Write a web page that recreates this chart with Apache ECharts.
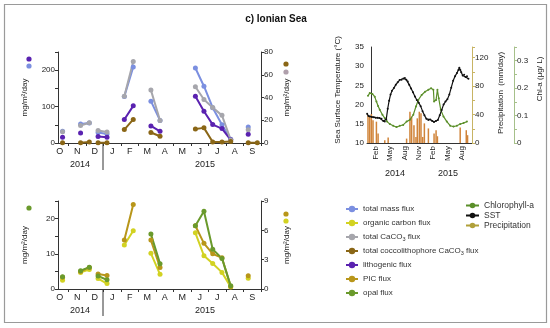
<!DOCTYPE html>
<html><head><meta charset="utf-8">
<script src="https://cdn.jsdelivr.net/npm/echarts@6/dist/echarts.min.js"></script>
<style>html,body{margin:0;padding:0;background:#fff}#c{width:550px;height:328px}</style>
</head><body><div id="c"></div>
<script>
// ---- flux sampling (months since 1 Oct 2014) ----
const monthLabels = ['O','N','D','J','F','M','A','M','J','J','A','S'];
const sampleMonths = [0.66, 1.69, 2.19, 2.69, 3.20, 4.19, 4.70, 5.71, 6.23, 8.25, 8.74, 9.24, 9.77, 10.27, 11.27, 11.79];
const sampleGroup  = [0, 1, 1, 2, 2, 3, 3, 4, 4, 5, 5, 5, 5, 5, 6, 6];
// top panel (left axis, mg/m2/day 0-250)
const totalMass  = [32, 52, 55, 28.6, 24.8, 128, 209, 115, 62, 206, 156, 97, 50, 10, 44, null];
const lithogenic = [15.7, 27.5, null, 18, 16, 64.4, 102, 46.8, 32.2, 128.5, 87.3, 50.6, 39.6, 8.8, 24, null];
// top panel (right axis, mg/m2/day 0-80)
const totalCaCO3 = [10, 15.4, 17.8, 10.9, 9.6, 41.2, 71.6, 46.5, 19.8, 49.4, 38.2, 31.1, 24.3, 2.7, 11.6, null];
const coccoCaCO3 = [0.2, 0.3, 0.9, 0.3, 0.3, 11.8, 20.7, 9.2, 5.9, 12.4, 13.3, 0.9, 0.9, 1.4, 0.3, 0.3];
// bottom panel (left axis 0-25)
const opalFlux   = [3.5, 5.2, 6.2, 3.7, 2.6, null, null, 15.6, 7.2, 18, 22.1, 11.3, 8.7, 0.9, null, null];
// bottom panel (right axis 0-9)
const picFlux    = [1.2, 1.8, 2.2, 1.54, 1.38, 5.0, 8.65, 5.0, 2.2, 6.47, 4.67, 3.6, 3.2, 0.25, 1.35, null];
const ocFlux     = [0.9, 1.7, 2.0, 1.07, 0.55, 4.5, 5.95, 3.65, 1.5, 5.75, 3.4, 2.6, 1.7, 0.2, 1.1, null];

// ---- SST / Chl / precipitation (months since 1 Jan 2014) ----
const envTickMonths = [1, 4, 7, 10, 13, 16, 19];
const envTickLabels = ['Feb','May','Aug','Nov','Feb','May','Aug'];
const sstMonths = [-0.8,-0.5,-0.2,0.2,0.6,1.0,1.4,1.8,2.2,2.6,2.9,3.2,3.5,3.8,4.1,4.4,4.8,5.2,5.6,6.0,6.4,6.8,7.1,7.4,7.7,8.0,8.4,8.8,9.2,9.6,10.0,10.4,10.8,11.2,11.6,12.0,12.4,12.8,13.2,13.6,14.0,14.4,14.8,15.2,15.6,16.0,16.4,16.8,17.2,17.6,18.0,18.3,18.5,18.7,18.9,19.2,19.5,19.8,20.1,20.4];
const sstValues = [17.6,17.0,16.9,16.8,16.7,16.6,16.6,16.5,16.3,15.7,15.6,16.2,18.9,21.0,22.6,23.6,24.3,25.2,25.8,26.4,26.5,26.8,26.9,26.5,26.0,25.2,24.2,23.2,22.1,21.2,20.5,19.6,18.3,17.2,16.3,16.0,16.1,15.7,15.5,15.7,16.0,17.2,18.6,20.0,20.8,21.4,22.6,24.4,26.2,27.4,28.2,29.0,29.6,29.0,28.4,27.6,27.8,27.2,27.4,26.7];
const chlMonths = [-0.62,-0.26,0.30,0.79,1.14,1.49,1.84,2.40,2.89,3.38,3.95,4.65,5.35,6.05,6.75,7.46,8.16,8.86,9.42,9.91,10.61,11.32,12.02,12.58,13.07,13.21,13.63,13.91,14.19,14.61,15.17,15.88,16.58,17.28,17.98,18.68,19.38,20.09];
const chlValues = [0.172,0.182,0.179,0.169,0.151,0.135,0.121,0.103,0.091,0.078,0.069,0.063,0.058,0.063,0.066,0.078,0.085,0.103,0.133,0.157,0.175,0.187,0.194,0.200,0.194,0.151,0.157,0.194,0.163,0.121,0.097,0.078,0.063,0.060,0.063,0.069,0.073,0.078];
const precipMonths = [-0.62,-0.26,0.09,0.43,1.14,1.49,2.89,3.6,7.46,8.16,8.51,9.0,9.42,9.7,10.12,10.47,10.83,11.18,12.02,13.21,13.63,13.91,18.68,19.95,20.22];
const precipValues = [39.4,37,40.8,32,30,13.4,3.8,7.7,6.2,44,37,25,8.5,34.7,44,41.8,8.5,27.6,20.5,13.4,18,9.5,21.9,18,11];

function build(vals){
  const out=[];
  for(let i=0;i<sampleMonths.length;i++){
    if(i>0 && sampleGroup[i]!==sampleGroup[i-1]) out.push([(sampleMonths[i]+sampleMonths[i-1])/2,'-']);
    out.push([sampleMonths[i], vals[i]==null?'-':vals[i]]);
  }
  return out;
}
function zip(a,b){return a.map((x,i)=>[x,b[i]]);}

const FONT='Liberation Sans';
const AX='#333';
const C = {mass:'#7b8fe0', oc:'#d2d222', caco3:'#a6a6ac', cocco:'#8a6616', lith:'#5a22b0', pic:'#b8961a', opal:'#6a9a2c', chl:'#5b8f2a', sst:'#111', prec:'#b0a03a', bar:'#d0843a'};

const bound=[], cent=[];
for(let i=1;i<=12;i++) bound.push(i);
for(let i=0;i<12;i++) cent.push(i+0.5);

function monthAxis(g){
  return {type:'value', gridIndex:g, min:0.4, max:12, splitLine:{show:false},
    axisLine:{lineStyle:{color:AX,width:1}},
    axisTick:{customValues:bound, length:3, lineStyle:{color:AX}},
    axisLabel:{customValues:cent, formatter:v=>monthLabels[Math.floor(v)], fontSize:9, color:'#222', fontFamily:FONT, margin:4}};
}
function yAx(g,pos,max,interval,labelEvery,name,nameGap,extra){
  return Object.assign({type:'value', gridIndex:g, position:pos, min:0, max:max, interval:interval,
    splitLine:{show:false},
    axisLine:{show:true, lineStyle:{color:AX,width:1}},
    axisTick:{show:true, length:3, lineStyle:{color:AX}},
    axisLabel:{fontSize:8, color:'#222', fontFamily:FONT, margin:3,
      formatter:v=>{const r=v/labelEvery; return Math.abs(r-Math.round(r))<1e-6 ? (v===0?'0':(+v.toFixed(2))+'') : '';}},
    name:name, nameLocation:'middle', nameRotate:90, nameGap:nameGap,
    nameTextStyle:{fontSize:8, color:'#222', fontFamily:FONT}}, extra||{});
}
function fluxSeries(name,vals,x,y,color){
  return {type:'line', name:name, xAxisIndex:x, yAxisIndex:y, data:build(vals),
    symbol:'circle', symbolSize:5, connectNulls:false,
    lineStyle:{color:color,width:2}, itemStyle:{color:color}, z:3};
}
function txt(t,x,y){return {type:'text', x:x, y:y, style:{text:t, font:'9px '+FONT, fill:'#222', align:'center', verticalAlign:'middle'}};}

const option={
  animation:false,
  textStyle:{fontFamily:FONT},
  grid:[
    {left:58, top:52, width:203, height:91},
    {left:58, top:201, width:203, height:88},
    {left:367, top:47, width:105, height:96}
  ],
  xAxis:[
    monthAxis(0), monthAxis(1),
    {type:'value', gridIndex:2, min:-0.83, max:21.15, splitLine:{show:false},
     axisLine:{lineStyle:{color:AX}}, axisTick:{show:false},
     axisLabel:{customValues:envTickMonths, rotate:90, fontSize:8, color:'#222', fontFamily:FONT, margin:3,
       formatter:v=>envTickLabels[envTickMonths.indexOf(Math.round(v))]}}
  ],
  yAxis:[
    yAx(0,'left',250,50,100,'mg/m²/day',29),
    yAx(0,'right',80,20,20,'mg/m²/day',22),
    yAx(1,'left',25,5,10,'mg/m²/day',29),
    yAx(1,'right',9,3,3,'mg/m²/day',22),
    yAx(2,'left',35,5,5,'',24,{min:10, axisTick:{show:false}}),
    yAx(2,'right',135,20,40,'',28,{axisLine:{show:true,lineStyle:{color:'#c8b464'}}, axisTick:{show:true,length:3,lineStyle:{color:'#c8b464'}}}),
    yAx(2,'right',0.35,0.05,0.1,'',24,{offset:42, axisLine:{show:true,lineStyle:{color:'#a6c08a'}}, axisTick:{show:true,length:3,lineStyle:{color:'#a6c08a'}}})
  ],
  legend:[
    {orient:'vertical', left:345, top:204, padding:0, itemWidth:12, itemHeight:8, itemGap:4, selectedMode:false,
     textStyle:{fontSize:8, color:'#333', fontFamily:FONT, lineHeight:10, rich:{s:{fontSize:5.5, verticalAlign:'bottom', lineHeight:10, padding:[3,0,0,0]}}},
     formatter:n=>n.replace('CaCO3','CaCO{s|3}'),
     data:['total mass flux','organic carbon flux','total CaCO3 flux','total coccolithophore CaCO3 flux','lithogenic flux','PIC flux','opal flux']},
    {orient:'vertical', left:465, top:200.5, padding:0, itemWidth:13, itemHeight:7, itemGap:0, selectedMode:false,
     textStyle:{fontSize:8.5, color:'#333', fontFamily:FONT, lineHeight:10},
     data:['Chlorophyll-a','SST','Precipitation']}
  ],
  series:[
    fluxSeries('total mass flux', totalMass, 0, 0, C.mass),
    fluxSeries('lithogenic flux', lithogenic, 0, 0, C.lith),
    fluxSeries('total CaCO3 flux', totalCaCO3, 0, 1, C.caco3),
    fluxSeries('total coccolithophore CaCO3 flux', coccoCaCO3, 0, 1, C.cocco),
    fluxSeries('organic carbon flux', ocFlux, 1, 3, C.oc),
    fluxSeries('PIC flux', picFlux, 1, 3, C.pic),
    fluxSeries('opal flux', opalFlux, 1, 2, C.opal),
    {type:'bar', name:'precipBars', xAxisIndex:2, yAxisIndex:5, data:zip(precipMonths,precipValues), barWidth:1.5, itemStyle:{color:C.bar}},
    {type:'line', name:'Chlorophyll-a', xAxisIndex:2, yAxisIndex:6, data:zip(chlMonths,chlValues), symbol:'circle', symbolSize:2, lineStyle:{color:C.chl,width:1.2}, itemStyle:{color:C.chl}},
    {type:'line', name:'SST', xAxisIndex:2, yAxisIndex:4, data:zip(sstMonths,sstValues), symbol:'circle', symbolSize:2, lineStyle:{color:C.sst,width:1.2}, itemStyle:{color:C.sst}},
    {type:'line', name:'Precipitation', xAxisIndex:2, yAxisIndex:5, data:[], symbol:'none', lineStyle:{color:C.prec,width:1.5}, itemStyle:{color:C.prec}}
  ],
  graphic:[
    {type:'rect', shape:{x:4.5,y:4.5,width:542,height:318}, style:{fill:'none', stroke:'#9a9a9a', lineWidth:1.2}, silent:true},
    {type:'text', x:276, y:19, style:{text:'c) Ionian Sea', font:'bold 10px '+FONT, fill:'#111', align:'center', verticalAlign:'middle'}},
    txt('2014',80,165), txt('2015',205,165),
    txt('2014',80,311), txt('2015',205,311),
    txt('2014',395,174), txt('2015',448,174),
    {type:'text', x:338, y:90, rotation:Math.PI/2, style:{text:'Sea Surface Temperature (°C)', font:'8px '+FONT, fill:'#222', align:'center', verticalAlign:'middle'}},
    {type:'text', x:501, y:93, rotation:Math.PI/2, style:{text:'Precipitation  (mm/day)', font:'8px '+FONT, fill:'#222', align:'center', verticalAlign:'middle'}},
    {type:'text', x:540, y:79, rotation:Math.PI/2, style:{text:'Chl-a (μg/ L)', font:'8px '+FONT, fill:'#222', align:'center', verticalAlign:'middle'}},
    {type:'line', shape:{x1:103,y1:143,x2:103,y2:170}, style:{stroke:'#333',lineWidth:1}},
    {type:'line', shape:{x1:103,y1:289,x2:103,y2:316}, style:{stroke:'#333',lineWidth:1}},
    {type:'circle', shape:{cx:29,cy:59,r:2.6}, style:{fill:C.lith}},
    {type:'circle', shape:{cx:29,cy:66,r:2.6}, style:{fill:C.mass}},
    {type:'circle', shape:{cx:286,cy:64,r:2.6}, style:{fill:C.cocco}},
    {type:'circle', shape:{cx:286,cy:72,r:2.6}, style:{fill:'#b0a0ac'}},
    {type:'circle', shape:{cx:29,cy:208,r:2.6}, style:{fill:C.opal}},
    {type:'circle', shape:{cx:286,cy:214,r:2.6}, style:{fill:C.pic}},
    {type:'circle', shape:{cx:286,cy:221,r:2.6}, style:{fill:C.oc}}
  ]
};
const chart=echarts.init(document.getElementById('c'),null,{renderer:'canvas'});
chart.setOption(option);
</script></body></html>
